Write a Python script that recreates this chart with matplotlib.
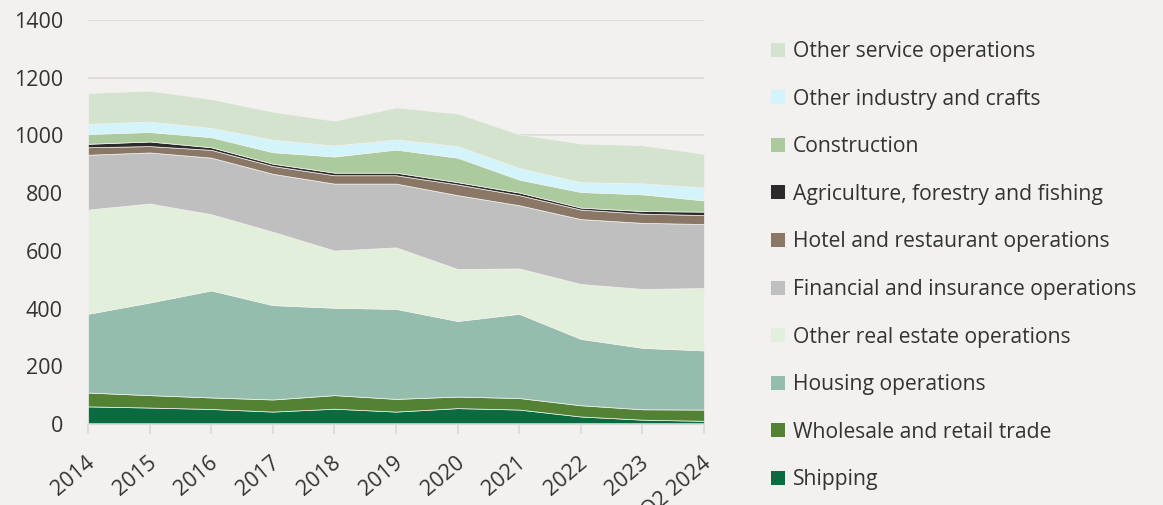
import matplotlib
matplotlib.use("Agg")
import matplotlib.pyplot as plt
from matplotlib.patches import Patch
import matplotlib.transforms as mtransforms
import numpy as np

years = ["2014", "2015", "2016", "2017", "2018", "2019", "2020", "2021", "2022", "2023", "Q2 2024"]

shipping = [61, 57, 52, 43, 53, 43, 55, 50, 26, 15, 11]
wholesale = [48, 43, 40, 42, 47, 44, 40, 40, 39, 36, 39]
housing = [273, 321, 371, 327, 303, 312, 262, 292, 230, 213, 205]
other_real_estate = [361, 343, 264, 254, 198, 213, 180, 157, 190, 204, 216]
financial = [190, 177, 196, 201, 232, 221, 256, 219, 225, 229, 222]
hotel = [26, 22, 27, 27, 29, 29, 37, 35, 33, 32, 31]
agriculture = [12, 16, 9, 8, 9, 9, 8, 9, 7, 9, 12]
construction = [34, 33, 35, 40, 56, 80, 85, 45, 54, 58, 39]
other_industry = [35, 36, 32, 43, 38, 35, 40, 40, 34, 38, 44]
other_service = [107, 107, 100, 97, 86, 111, 113, 117, 134, 132, 117]

labels = ["Shipping", "Wholesale and retail trade", "Housing operations",
          "Other real estate operations", "Financial and insurance operations",
          "Hotel and restaurant operations", "Agriculture, forestry and fishing",
          "Construction", "Other industry and crafts", "Other service operations"]
colors = ["#0B6B40", "#548235", "#95BDAD", "#E2EFDA", "#BFBFBF",
          "#8A7765", "#2D2A2B", "#ABCB9E", "#D3F4FA", "#D3E3CD"]

series = [shipping, wholesale, housing, other_real_estate, financial,
          hotel, agriculture, construction, other_industry, other_service]

bg = "#F2F1EF"
txt = "#333333"
plt.rcParams['font.family'] = ['Open Sans', 'DejaVu Sans']

fig = plt.figure(figsize=(11.63, 5.05), dpi=100, facecolor=bg)
ax = fig.add_axes([88/1163, 81/505, 616/1163, 404/505])
ax.set_facecolor(bg)

x = np.arange(len(years))
ax.stackplot(x, *series, colors=colors, linewidth=0.5, edgecolor=bg, zorder=2)

ax.set_xlim(0, len(years) - 1)
ax.set_ylim(0, 1400)
ax.set_yticks(range(0, 1401, 200))
ax.yaxis.grid(True, color="#D9D9D9", linewidth=1.2, zorder=0)
ax.set_axisbelow(True)
for s in ["top", "right", "left"]:
    ax.spines[s].set_visible(False)
ax.spines["bottom"].set_color("#D9D9D9")
ax.spines["bottom"].set_linewidth(1.2)
ax.spines["bottom"].set_zorder(3)
ax.tick_params(axis="y", length=0, pad=18, labelsize=15.5, labelcolor=txt)
ax.tick_params(axis="x", length=7, width=1.2, color="#D9D9D9", pad=19,
               labelsize=15.5, labelcolor=txt)
ax.set_xticks(x)
ax.set_xticklabels(years, rotation=40, ha="right", va="center", rotation_mode="anchor")
offset = mtransforms.ScaledTranslation(4/100, 0, fig.dpi_scale_trans)
for lab in ax.get_xticklabels():
    lab.set_transform(lab.get_transform() + offset)

handles = [Patch(facecolor=c, edgecolor="none") for c in colors][::-1]
fig.legend(handles, labels[::-1], loc="upper left", bbox_to_anchor=(752/1163, 1 - 22/505),
           frameon=False, fontsize=15.2, handlelength=0.65, handleheight=0.65,
           handletextpad=0.4, labelspacing=1.26, labelcolor=txt)

fig.savefig("out.png", dpi=100, facecolor=bg)
